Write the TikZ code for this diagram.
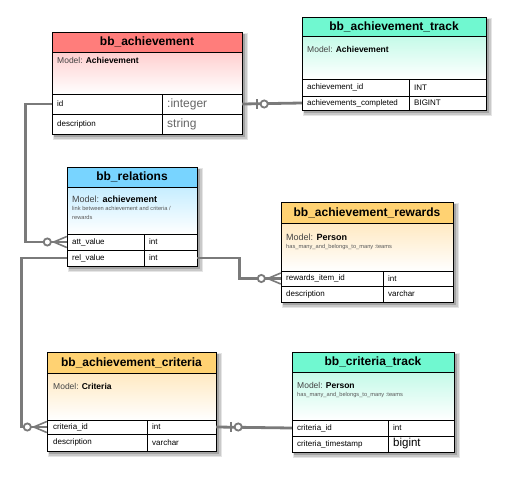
\documentclass[tikz,border=0pt]{standalone}
\usepackage{fontspec}
\setmainfont{Liberation Sans}
\usetikzlibrary{calc}
\definecolor{hdrred}{HTML}{FF7D7B}
\definecolor{bodred}{HTML}{FFCFCF}
\definecolor{hdrteal}{HTML}{70F8D0}
\definecolor{bodteal}{HTML}{C4FAE8}
\definecolor{hdrblue}{HTML}{78D4FF}
\definecolor{bodblue}{HTML}{C6EDFF}
\definecolor{hdrorange}{HTML}{FFD272}
\definecolor{bodorange}{HTML}{FFE9C2}
\definecolor{conngray}{HTML}{7A7A7A}
\definecolor{modelgray}{HTML}{444444}
\newcommand\erframe[9]{%
  \fill[black,opacity=.10] (#1+1,#3+1) rectangle (#2+6,#7+6);
  \fill[black,opacity=.12] (#1+2,#3+2) rectangle (#2+4.5,#7+4.5);
  \fill[black,opacity=.18] (#1+2,#3+2) rectangle (#2+3,#7+3);
  \fill[hdr#9] (#1,#3) rectangle (#2,#4);
  \shade[top color=bod#9,bottom color=white] (#1,#4) rectangle (#2,#5);
  \fill[white] (#1,#5) rectangle (#2,#7);
  \draw[line width=0.8pt] (#1,#4)--(#2,#4) (#1,#5)--(#2,#5) (#1,#6)--(#2,#6) (#8,#5)--(#8,#7);
  \draw[line width=1pt] (#1,#3) rectangle (#2,#7);
}
\tikzset{
  title/.style={font=\fontsize{12}{13}\selectfont\bfseries, inner sep=0pt},
  model/.style={font=\fontsize{8.5}{10}\selectfont, anchor=west, inner sep=0pt, text=modelgray},
  modelbig/.style={font=\fontsize{9}{10}\selectfont, anchor=west, inner sep=0pt, text=modelgray},
  note/.style={font=\fontsize{5.7}{9}\selectfont, anchor=west, inner sep=0pt, text=black!65, align=left},
  cell/.style={font=\fontsize{8}{9}\selectfont, anchor=west, inner sep=0pt},
  bigcell/.style={font=\fontsize{12}{13}\selectfont, anchor=west, inner sep=0pt, text=black!60},
  bigcellk/.style={font=\fontsize{11.5}{12}\selectfont, anchor=west, inner sep=0pt},
  rowspan/.style={inner sep=0pt, minimum height=14pt},
  conn/.style={draw=conngray, line width=2.8pt},
  mk/.style={draw=conngray, line width=1.6pt},
}
\newcommand\crowfoot[1]{%
  \draw[mk] ($(#1)+(-13,0)$) -- ($(#1)+(0,-5.5)$) ($(#1)+(-13,0)$) -- ($(#1)+(0,5.5)$);
  \draw[mk, line width=1.8pt, fill=white] ($(#1)+(-19.5,0)$) circle (3.6);
}
\newcommand\zeroone[2]{%
  \draw[mk, line width=2pt] ($(#1)+(#2*15,-5)$) -- ($(#1)+(#2*15,5)$);
  \draw[mk, line width=1.8pt, fill=white] ($(#1)+(#2*22,0)$) circle (3.6);
}
\begin{document}
\begin{tikzpicture}[x=1pt,y=-1pt]
\useasboundingbox (0,0) rectangle (507,477);
\fill[white] (0,0) rectangle (507,477);

% ---------- frames ----------
\erframe{52}{242}{32}{52}{94}{114}{134}{162}{red}
\erframe{302}{486}{17}{36}{79}{96}{110}{409}{teal}
\erframe{67}{197}{167}{187}{234}{250}{266}{144}{blue}
\erframe{281}{453}{202}{223}{271}{286}{302}{383}{orange}
\erframe{47}{216}{352}{373}{420}{434}{451}{147}{orange}
\erframe{292}{454}{352}{372}{420}{436}{452}{388}{teal}

% ---------- row nodes (for connectors) ----------
\node[rowspan, minimum width=190pt, minimum height=20pt] (achid) at (147,104) {};
\node[rowspan, minimum width=184pt] (trkcomp) at (394,103) {};
\node[rowspan, minimum width=130pt, minimum height=16pt] (relatt) at (132,242) {};
\node[rowspan, minimum width=130pt, minimum height=16pt] (relrel) at (132,258) {};
\node[rowspan, minimum width=172pt, minimum height=15pt] (rewitem) at (367,278.5) {};
\node[rowspan, minimum width=169pt] (critid) at (131.5,427) {};
\node[rowspan, minimum width=162pt, minimum height=16pt] (ctrkid) at (373,428) {};

% ---------- bb_achievement ----------
\node[title] (t1) at (147,42) {bb\_achievement};
\node[model] (m1) at (57,60) {Model: \textbf{\color{black}Achievement}};
\node[cell] (c1a) at (57,104) {id};
\node[bigcell] (c1b) at (167,104) {:integer};
\node[cell] (c1c) at (57,124.5) {description};
\node[bigcell] (c1d) at (167,124.5) {string};

% ---------- bb_achievement_track ----------
\node[title] (t2) at (394,26.5) {bb\_achievement\_track};
\node[model] (m2) at (307,49) {Model: \textbf{\color{black}Achievement}};
\node[cell] (c2a) at (307,87.5) {achievement\_id};
\node[cell] (c2b) at (414,87.5) {INT};
\node[cell] (c2c) at (307,103) {achievements\_completed};
\node[cell] (c2d) at (414,103) {BIGINT};

% ---------- bb_relations ----------
\node[title] (t3) at (132,177) {bb\_relations};
\node[modelbig] (m3) at (72,199) {Model: \textbf{\color{black}achievement}};
\node[note, anchor=north west] (n3) at (72,206.5) {link between achievement and criteria /\\rewards};
\node[cell] (c3a) at (72,242) {att\_value};
\node[cell] (c3b) at (149,242) {int};
\node[cell] (c3c) at (72,258) {rel\_value};
\node[cell] (c3d) at (149,258) {int};

% ---------- bb_achievement_rewards ----------
\node[title] (t4) at (367,212.5) {bb\_achievement\_rewards};
\node[modelbig] (m4) at (286,237) {Model: \textbf{\color{black}Person}};
\node[note] (n4) at (286,247.5) {has\_many\_and\_belongs\_to\_many :teams};
\node[cell] (c4a) at (286,278.5) {rewards\_item\_id};
\node[cell] (c4b) at (388,278.5) {int};
\node[cell] (c4c) at (286,294) {description};
\node[cell] (c4d) at (388,294) {varchar};

% ---------- bb_achievement_criteria ----------
\node[title] (t5) at (131.5,362.5) {bb\_achievement\_criteria};
\node[model] (m5) at (53,386) {Model: \textbf{\color{black}Criteria}};
\node[cell] (c5a) at (53,427) {criteria\_id};
\node[cell] (c5b) at (152,427) {int};
\node[cell] (c5c) at (53,442.5) {description};
\node[cell] (c5d) at (152,442.5) {varchar};

% ---------- bb_criteria_track ----------
\node[title] (t6) at (373,362) {bb\_criteria\_track};
\node[model] (m6) at (297,385) {Model: \textbf{\color{black}Person}};
\node[note] (n6) at (297,395.5) {has\_many\_and\_belongs\_to\_many :teams};
\node[cell] (c6a) at (297,428) {criteria\_id};
\node[cell] (c6b) at (393,428) {int};
\node[cell] (c6c) at (297,444) {criteria\_timestamp};
\node[bigcellk] (c6d) at (393,444) {bigint};

% ---------- connectors ----------
\draw[conn] (achid.west) -- ++(-26,0) |- (relatt.west);
\draw[conn] (achid.east) -- (trkcomp.west);
\draw[conn] (relrel.west) -- ++(-45,0) |- (critid.west);
\draw[conn] (relrel.east) -- ++(42,0) |- (rewitem.west);
\draw[conn] (critid.east) -- (ctrkid.west);

% ---------- markers ----------
\crowfoot{relatt.west}
\crowfoot{rewitem.west}
\crowfoot{critid.west}
\zeroone{achid.east}{1}
\zeroone{critid.east}{1}
\end{tikzpicture}
\end{document}
